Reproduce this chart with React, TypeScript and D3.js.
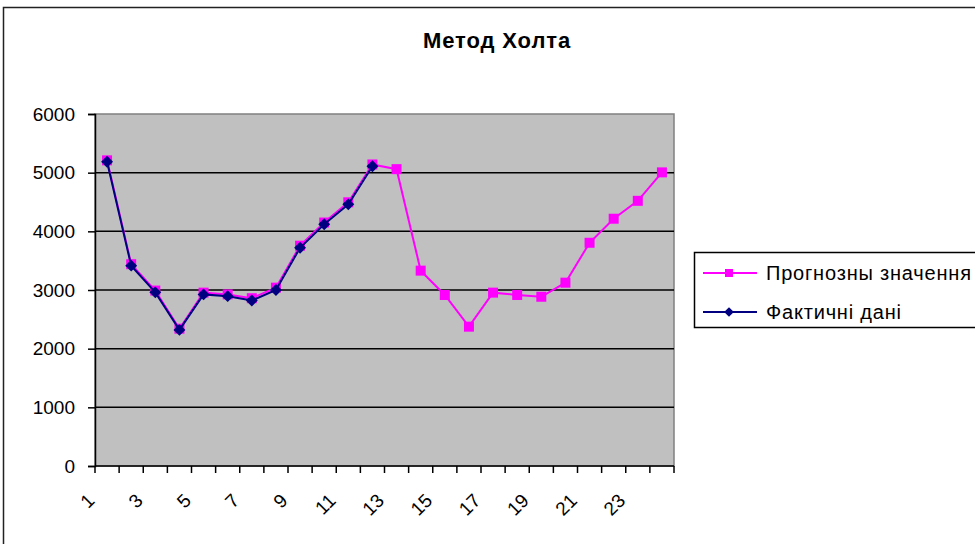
import React, { useEffect, useRef } from 'react';
import * as d3 from 'd3';

// categories 1..24
const categories = ['1', '2', '3', '4', '5', '6', '7', '8', '9', '10', '11', '12',
  '13', '14', '15', '16', '17', '18', '19', '20', '21', '22', '23', '24'];
const forecast = [5210, 3440, 2990, 2340, 2955, 2925, 2860, 3040, 3755, 4150, 4495, 5140,
  5060, 3330, 2915, 2375, 2955, 2915, 2885, 3125, 3805, 4215, 4520, 5005];
const actual = [5185, 3415, 2960, 2320, 2925, 2895, 2820, 3000, 3720, 4120, 4460, 5110];
const yTicks = [0, 1000, 2000, 3000, 4000, 5000, 6000];
const xLabels = ['1', '3', '5', '7', '9', '11', '13', '15', '17', '19', '21', '23'];
const seriesNames = ['Прогнозны значення', 'Фактичні дані'];

const W = 975;
const H = 544;
const FONT = '"Liberation Sans", Arial, sans-serif';

const App: React.FC = () => {
  const svgRef = useRef<SVGSVGElement>(null);

  useEffect(() => {
    document.body.style.margin = '0';
    if (!svgRef.current) return;
    const svg = d3.select(svgRef.current);
    svg.selectAll('*').remove();

    const plot = { left: 95, top: 114, right: 674, bottom: 466 };

    const x = d3.scaleBand<string>()
      .domain(categories)
      .range([plot.left, plot.right])
      .padding(0);
    const y = d3.scaleLinear()
      .domain([0, 6000])
      .range([plot.bottom, plot.top]);
    const cx = (i: number) => x(categories[i])! + x.bandwidth() / 2;

    // outer chart border
    svg.append('rect')
      .attr('x', 3.5).attr('y', 7.5)
      .attr('width', 1000).attr('height', 600)
      .attr('fill', 'white')
      .attr('stroke', '#222').attr('stroke-width', 1.5);

    // title
    svg.append('text')
      .attr('x', 497).attr('y', 48)
      .attr('text-anchor', 'middle')
      .style('font-family', FONT)
      .style('font-size', '22px')
      .style('font-weight', 'bold')
      .style('letter-spacing', '0.9px')
      .text('Метод Холта');

    // plot area
    svg.append('rect')
      .attr('x', plot.left).attr('y', plot.top)
      .attr('width', plot.right - plot.left).attr('height', plot.bottom - plot.top)
      .attr('fill', '#C0C0C0')
      .attr('stroke', '#808080').attr('stroke-width', 1.5);

    // gridlines
    svg.append('g')
      .selectAll('line')
      .data(yTicks.filter(d => d > 0 && d < 6000))
      .enter().append('line')
      .attr('x1', plot.left).attr('x2', plot.right)
      .attr('y1', d => y(d)).attr('y2', d => y(d))
      .attr('stroke', 'black').attr('stroke-width', 1.5);

    // y axis
    const yAxis = svg.append('g')
      .attr('transform', `translate(${plot.left},0)`)
      .call(d3.axisLeft(y).tickValues(yTicks).tickSize(7).tickPadding(13).tickFormat(d3.format('d')));
    yAxis.select('.domain').attr('stroke', 'black').attr('stroke-width', 1.5);
    yAxis.selectAll('.tick line').attr('stroke', 'black').attr('stroke-width', 1.5);
    yAxis.selectAll('.tick text')
      .style('font-family', FONT)
      .style('font-size', '19px')
      .attr('fill', 'black');

    // x axis
    const xg = svg.append('g');
    xg.append('line')
      .attr('x1', plot.left).attr('x2', plot.right)
      .attr('y1', plot.bottom).attr('y2', plot.bottom)
      .attr('stroke', 'black').attr('stroke-width', 1.5);
    const boundaries = categories.map(c => x(c)!).concat([plot.right]);
    xg.selectAll('.xt')
      .data(boundaries)
      .enter().append('line')
      .attr('class', 'xt')
      .attr('x1', d => d).attr('x2', d => d)
      .attr('y1', plot.bottom).attr('y2', plot.bottom + 7)
      .attr('stroke', 'black').attr('stroke-width', 1.5);
    xg.selectAll('.xl')
      .data(xLabels)
      .enter().append('text')
      .attr('class', 'xl')
      .attr('transform', d => `translate(${x(d)! + x.bandwidth() / 2 - 16},${plot.bottom + 31}) rotate(-45)`)
      .attr('text-anchor', 'end')
      .attr('dy', '0.35em')
      .style('font-family', FONT)
      .style('font-size', '19px')
      .text(d => d);

    const line = d3.line<number>()
      .x((_, i) => cx(i))
      .y(d => y(d));

    // forecast series
    svg.append('path')
      .datum(forecast)
      .attr('d', line)
      .attr('fill', 'none')
      .attr('stroke', '#FF00FF').attr('stroke-width', 2);
    svg.append('g')
      .selectAll('rect')
      .data(forecast)
      .enter().append('rect')
      .attr('x', (_, i) => cx(i) - 5)
      .attr('y', d => y(d) - 5)
      .attr('width', 10).attr('height', 10)
      .attr('fill', '#FF00FF');

    // actual series
    svg.append('path')
      .datum(actual)
      .attr('d', line)
      .attr('fill', 'none')
      .attr('stroke', '#000080').attr('stroke-width', 2);
    const diamond = d3.symbol().type(d3.symbolDiamond2).size(90);
    svg.append('g')
      .selectAll('path')
      .data(actual)
      .enter().append('path')
      .attr('transform', (d, i) => `translate(${cx(i)},${y(d)})`)
      .attr('d', diamond()!)
      .attr('fill', '#000080');

    // legend
    const lg = svg.append('g');
    lg.append('rect')
      .attr('x', 694.5).attr('y', 252.5)
      .attr('width', 320).attr('height', 75)
      .attr('fill', 'white')
      .attr('stroke', 'black').attr('stroke-width', 1.5);
    const legendRows = [
      { name: seriesNames[0], color: '#FF00FF', kind: 'square' },
      { name: seriesNames[1], color: '#000080', kind: 'diamond' },
    ];
    legendRows.forEach((r, i) => {
      const ly = 273 + i * 39;
      lg.append('line')
        .attr('x1', 703).attr('x2', 757)
        .attr('y1', ly).attr('y2', ly)
        .attr('stroke', r.color).attr('stroke-width', 2);
      if (r.kind === 'square') {
        lg.append('rect')
          .attr('x', 725).attr('y', ly - 4)
          .attr('width', 8).attr('height', 8)
          .attr('fill', r.color);
      } else {
        lg.append('path')
          .attr('transform', `translate(729,${ly})`)
          .attr('d', d3.symbol().type(d3.symbolDiamond2).size(60)()!)
          .attr('fill', r.color);
      }
      lg.append('text')
        .attr('x', 766).attr('y', ly)
        .attr('dy', '0.35em')
        .style('font-family', FONT)
        .style('font-size', '20px')
        .style('letter-spacing', '0.8px')
        .text(r.name);
    });
  }, []);

  return <svg ref={svgRef} width={W} height={H} style={{ display: 'block' }} />;
};

export default App;
